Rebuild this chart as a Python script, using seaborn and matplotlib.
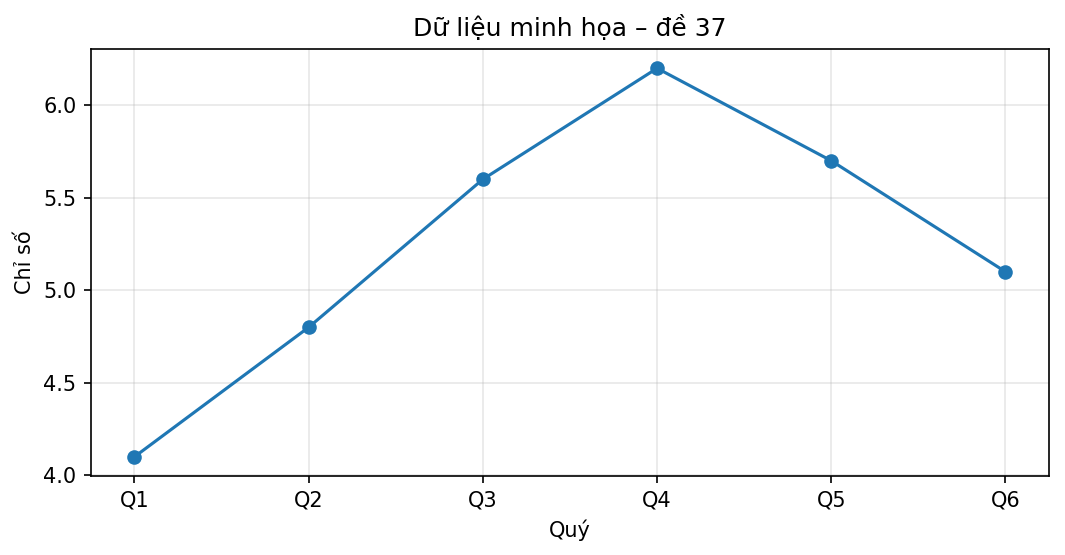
import matplotlib
matplotlib.use("Agg")
import matplotlib.pyplot as plt
import seaborn as sns
import pandas as pd

# data
quarters = ["Q1", "Q2", "Q3", "Q4", "Q5", "Q6"]
values = [4.1, 4.8, 5.6, 6.2, 5.7, 5.1]

df = pd.DataFrame({"quy": quarters, "chiso": values})

fig, ax = plt.subplots(figsize=(7.1, 3.7), dpi=150)
sns.lineplot(data=df, x="quy", y="chiso", ax=ax, marker="o", color="#1f77b4",
             markersize=7, markeredgecolor="#1f77b4", markeredgewidth=0, linewidth=1.5)

ax.set_title("Dữ liệu minh họa – đề 37")
ax.set_xlabel("Quý")
ax.set_ylabel("Chỉ số")
ax.grid(True, alpha=0.3)

fig.subplots_adjust(left=0.0854, right=0.985, top=0.912, bottom=0.142)
fig.savefig("out.png", dpi=150)
